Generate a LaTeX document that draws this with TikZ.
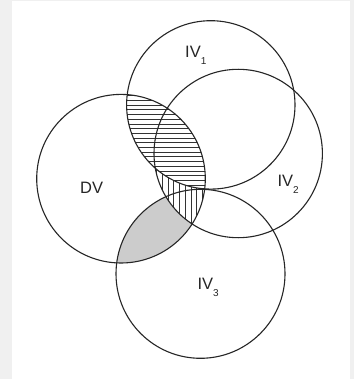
\documentclass[tikz,border=0pt]{standalone}
\usepackage{fontspec}
\setmainfont{Liberation Sans}
\begin{document}
\begin{tikzpicture}[x=1pt,y=-1pt,
  ring/.style={draw=black!85,line width=1.1pt},
  hatch/.style={draw=black!80,line width=0.6pt},
  lbl/.style={anchor=base west,inner sep=0pt,font=\fontsize{16.5}{18}\selectfont,text=black!85},
  sub/.style={font=\fontsize{10}{10}\selectfont}]
\fill[black!6] (0,0) rectangle (354,379);
\fill[white] (12,1) rectangle (350,379);
\useasboundingbox (0,0) rectangle (354,379);
\def\DVc{(121,178.7) circle (84.3)}
\def\IVa{(210.8,104.9) circle (84.2)}
\def\IVb{(238.2,153.5) circle (84.2)}
\def\IVc{(200.5,273.8) circle (84.5)}
% gray: DV and IV3
\begin{scope}
  \clip \DVc; \clip \IVc;
  \fill[white!80!black] (0,0) rectangle (354,379);
\end{scope}
% vertical hatch: DV and IV2
\begin{scope}
  \clip \DVc; \clip \IVb;
  \fill[white] (0,0) rectangle (354,379);
  \foreach \x in {150.9,156.6,...,210} \draw[hatch] (\x,60) -- (\x,260);
\end{scope}
% horizontal hatch: DV and IV1
\begin{scope}
  \clip \DVc; \clip \IVa;
  \fill[white] (0,0) rectangle (354,379);
  \foreach \y in {91.0,95.7,...,195} \draw[hatch] (100,\y) -- (230,\y);
\end{scope}
\draw[ring] \DVc;
\draw[ring] \IVa;
\draw[ring] \IVb;
\draw[ring] \IVc;
\node[lbl] (dv) at (80,193.3) {DV};
\node[lbl] (iv1) at (185,57.3) {IV\raisebox{-0.42em}{\fontsize{10}{10}\selectfont 1}};
\node[lbl] (iv2) at (277.3,186.7) {IV\raisebox{-0.42em}{\fontsize{10}{10}\selectfont 2}};
\node[lbl] (iv3) at (197.3,289.3) {IV\raisebox{-0.42em}{\fontsize{10}{10}\selectfont 3}};
\end{tikzpicture}
\end{document}
